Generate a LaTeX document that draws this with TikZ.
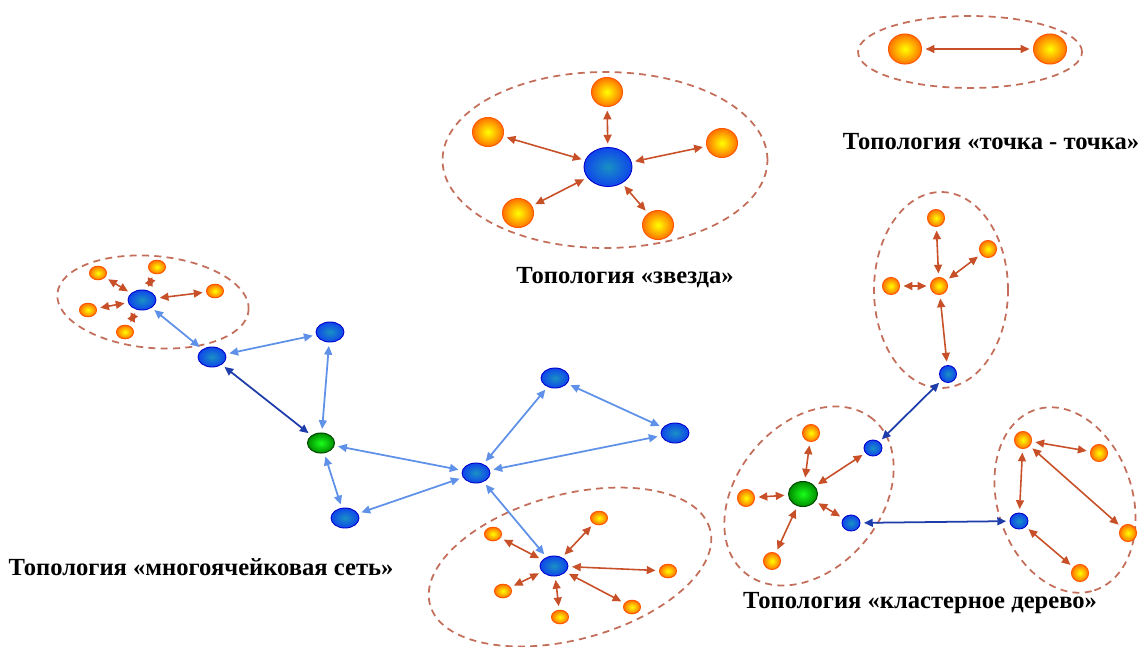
\documentclass[tikz,border=0pt]{standalone}
\usepackage{fontspec}
\setmainfont{Liberation Serif}
\usetikzlibrary{arrows.meta,shapes.geometric}
\definecolor{linkred}{RGB}{200,80,40}
\definecolor{linkblue}{RGB}{95,145,232}
\definecolor{linkdark}{RGB}{30,60,170}
\definecolor{ringred}{RGB}{195,110,90}
\definecolor{orbteal}{RGB}{25,145,195}
\definecolor{orbblue}{RGB}{15,70,235}
\tikzset{
	orb/.style={ellipse, inner sep=0pt, shading=radial, inner color=yellow, outer color=orange!90!red, draw=orange!70!red, line width=0.6pt},
	blueorb/.style={ellipse, inner sep=0pt, shading=radial, inner color=orbteal, outer color=orbblue, draw=blue!80!black, line width=0.5pt},
	greenorb/.style={ellipse, inner sep=0pt, shading=radial, inner color=green!90!white, outer color=green!55!black, draw=green!30!black, line width=0.6pt},
	ring/.style={ellipse, draw=ringred, dashed, dash pattern=on 4pt off 3pt, line width=1pt, inner sep=0pt},
	redlink/.style={<->, >={Triangle[length=5pt,width=4.5pt]}, draw=linkred, fill=linkred, line width=0.9pt, shorten >=2pt, shorten <=2pt},
	bluelink/.style={<->, >={Triangle[length=5pt,width=4.5pt]}, draw=linkblue, line width=1pt, shorten >=2pt, shorten <=2pt},
	darklink/.style={<->, >={Triangle[length=5pt,width=4.5pt]}, draw=linkdark, line width=1pt, shorten >=2pt, shorten <=2pt},
	caption/.style={font=\fontsize{14}{16}\selectfont\bfseries, inner sep=0pt}
}

\begin{document}
\begin{tikzpicture}[x=0.02cm, y=-0.02cm]
		%%%%% START %%%%%
		\useasboundingbox (0, 0) rectangle (1145, 646);
		
		% point to point
		\node[ring, minimum width=4.48cm, minimum height=1.44cm] (pring) at (970, 52) {};
		\node[orb, minimum width=0.66cm, minimum height=0.6cm] (p1) at (905, 49) {};
		\node[orb, minimum width=0.66cm, minimum height=0.6cm] (p2) at (1050, 49) {};
		\draw[redlink] (p1) -- (p2);
		\node[caption] (ptext) at (991, 142) {Топология «точка - точка»};
		
		% star
		\node[ring, minimum width=6.5cm, minimum height=3.52cm] (sring) at (605, 160) {};
		\node[blueorb, minimum width=0.96cm, minimum height=0.78cm] (st0) at (608, 167) {};
		\node[orb, minimum width=0.62cm, minimum height=0.58cm] (st1) at (607, 92) {};
		\node[orb, minimum width=0.62cm, minimum height=0.58cm] (st2) at (488, 132) {};
		\node[orb, minimum width=0.62cm, minimum height=0.58cm] (st3) at (722, 143) {};
		\node[orb, minimum width=0.62cm, minimum height=0.58cm] (st4) at (518, 213) {};
		\node[orb, minimum width=0.62cm, minimum height=0.58cm] (st5) at (658, 225) {};
		\draw[redlink] (st0) -- (st1);
		\draw[redlink] (st0) -- (st2);
		\draw[redlink] (st0) -- (st3);
		\draw[redlink] (st0) -- (st4);
		\draw[redlink] (st0) -- (st5);
		\node[caption] (stext) at (625, 278) {Топология «звезда»};
		
		% mesh, upper cluster
		\node[ring, minimum width=3.84cm, minimum height=1.84cm, rotate=-5] (mtring) at (153, 302) {};
		\node[blueorb, minimum width=0.56cm, minimum height=0.4cm] (mt0) at (142, 300) {};
		\node[orb, minimum width=0.34cm, minimum height=0.27cm] (mt1) at (98, 273) {};
		\node[orb, minimum width=0.34cm, minimum height=0.27cm] (mt2) at (157, 267) {};
		\node[orb, minimum width=0.34cm, minimum height=0.27cm] (mt3) at (215, 291) {};
		\node[orb, minimum width=0.34cm, minimum height=0.27cm] (mt4) at (88, 310) {};
		\node[orb, minimum width=0.34cm, minimum height=0.27cm] (mt5) at (125, 332) {};
		\draw[redlink] (mt0) -- (mt1);
		\draw[redlink] (mt0) -- (mt2);
		\draw[redlink] (mt0) -- (mt3);
		\draw[redlink] (mt0) -- (mt4);
		\draw[redlink] (mt0) -- (mt5);
		
		% mesh, main part
		\node[blueorb, minimum width=0.56cm, minimum height=0.4cm] (mA) at (212, 357) {};
		\node[blueorb, minimum width=0.56cm, minimum height=0.4cm] (mB) at (330, 332) {};
		\node[greenorb, minimum width=0.54cm, minimum height=0.4cm] (mG) at (321, 443) {};
		\node[blueorb, minimum width=0.56cm, minimum height=0.4cm] (mC) at (476, 473) {};
		\node[blueorb, minimum width=0.56cm, minimum height=0.4cm] (mD) at (345, 518) {};
		\node[blueorb, minimum width=0.56cm, minimum height=0.4cm] (mE) at (555, 378) {};
		\node[blueorb, minimum width=0.56cm, minimum height=0.4cm] (mF) at (675, 433) {};
		\draw[bluelink] (mt0) -- (mA);
		\draw[bluelink] (mA) -- (mB);
		\draw[bluelink] (mB) -- (mG);
		\draw[darklink] (mA) -- (mG);
		\draw[bluelink] (mG) -- (mC);
		\draw[bluelink] (mG) -- (mD);
		\draw[bluelink] (mD) -- (mC);
		\draw[bluelink] (mC) -- (mE);
		\draw[bluelink] (mE) -- (mF);
		\draw[bluelink] (mF) -- (mC);
		
		% mesh, lower cluster
		\node[ring, minimum width=5.8cm, minimum height=2.9cm, rotate=15] (mbring) at (570, 567) {};
		\node[blueorb, minimum width=0.56cm, minimum height=0.4cm] (mb0) at (554, 566) {};
		\node[orb, minimum width=0.34cm, minimum height=0.27cm] (mb1) at (493, 534) {};
		\node[orb, minimum width=0.34cm, minimum height=0.27cm] (mb2) at (599, 518) {};
		\node[orb, minimum width=0.34cm, minimum height=0.27cm] (mb3) at (668, 571) {};
		\node[orb, minimum width=0.34cm, minimum height=0.27cm] (mb4) at (503, 591) {};
		\node[orb, minimum width=0.34cm, minimum height=0.27cm] (mb5) at (560, 617) {};
		\node[orb, minimum width=0.34cm, minimum height=0.27cm] (mb6) at (632, 607) {};
		\draw[bluelink] (mC) -- (mb0);
		\draw[redlink] (mb0) -- (mb1);
		\draw[redlink] (mb0) -- (mb2);
		\draw[redlink] (mb0) -- (mb3);
		\draw[redlink] (mb0) -- (mb4);
		\draw[redlink] (mb0) -- (mb5);
		\draw[redlink] (mb0) -- (mb6);
		\node[caption] (mtext) at (201, 567) {Топология «многоячейковая сеть»};
		
		% cluster tree, upper cluster
		\node[ring, minimum width=2.68cm, minimum height=3.92cm] (turing) at (941, 290) {};
		\node[orb, minimum size=0.34cm] (tu0) at (939, 286) {};
		\node[orb, minimum size=0.34cm] (tu1) at (936, 218) {};
		\node[orb, minimum size=0.34cm] (tu2) at (988, 249) {};
		\node[orb, minimum size=0.34cm] (tu3) at (891, 286) {};
		\node[blueorb, minimum size=0.34cm] (tub) at (948, 374) {};
		\draw[redlink] (tu0) -- (tu1);
		\draw[redlink] (tu0) -- (tu2);
		\draw[redlink] (tu0) -- (tu3);
		\draw[redlink] (tu0) -- (tub);
		
		% cluster tree, left cluster
		\node[ring, minimum width=4cm, minimum height=2.88cm, rotate=50] (tlring) at (809, 496) {};
		\node[greenorb, minimum width=0.58cm, minimum height=0.5cm] (tg) at (803, 494) {};
		\node[orb, minimum size=0.34cm] (tl1) at (811, 433) {};
		\node[orb, minimum size=0.34cm] (tl2) at (746, 498) {};
		\node[orb, minimum size=0.34cm] (tl3) at (772, 561) {};
		\node[blueorb, minimum width=0.36cm, minimum height=0.32cm] (tlb1) at (873, 448) {};
		\node[blueorb, minimum width=0.36cm, minimum height=0.32cm] (tlb2) at (851, 523) {};
		\draw[redlink] (tg) -- (tl1);
		\draw[redlink] (tg) -- (tl2);
		\draw[redlink] (tg) -- (tl3);
		\draw[redlink] (tg) -- (tlb1);
		\draw[redlink] (tg) -- (tlb2);
		
		% cluster tree, right cluster
		\node[ring, minimum width=3.8cm, minimum height=2.7cm, rotate=-72] (trring) at (1065, 500) {};
		\node[orb, minimum size=0.34cm] (tr1) at (1023, 440) {};
		\node[orb, minimum size=0.34cm] (tr2) at (1099, 453) {};
		\node[orb, minimum size=0.34cm] (tr3) at (1128, 533) {};
		\node[orb, minimum size=0.34cm] (tr4) at (1080, 573) {};
		\node[blueorb, minimum width=0.36cm, minimum height=0.32cm] (trb) at (1019, 521) {};
		\draw[redlink] (tr1) -- (tr2);
		\draw[redlink] (tr1) -- (tr3);
		\draw[redlink] (tr1) -- (trb);
		\draw[redlink] (trb) -- (tr4);
		
		% links between clusters
		\draw[darklink] (tub) -- (tlb1);
		\draw[darklink] (tlb2) -- (trb);
		\node[caption] (ttext) at (920, 603) {Топология «кластерное дерево»};
		
		%%%%% END %%%%%
\end{tikzpicture}
\end{document}
